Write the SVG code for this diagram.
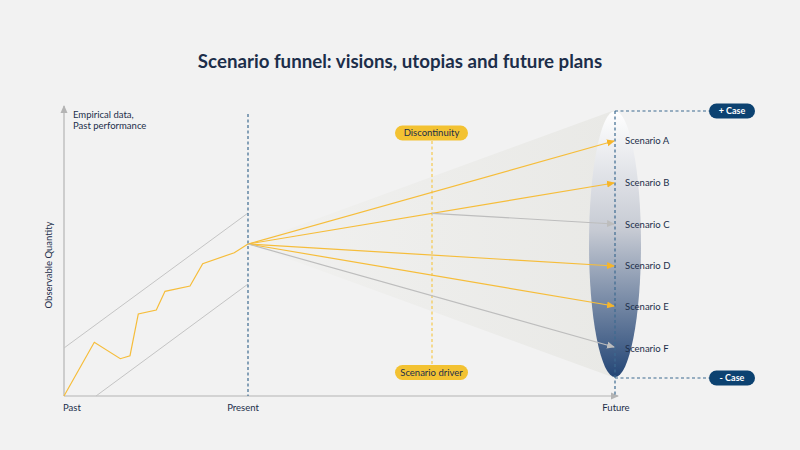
<svg xmlns="http://www.w3.org/2000/svg" width="800" height="450" viewBox="0 0 800 450">
<defs>
<style>
.t{font-family:Lato,"Open Sans","DejaVu Sans",sans-serif;fill:#1c2e4a;}
.lbl{font-size:9.5px;}
.ax{stroke:#b4b4b4;stroke-width:1.2;fill:none;}
.gl{stroke:#c4c4c4;stroke-width:1;fill:none;}
.yl{stroke:#f6bd3a;stroke-width:1.2;fill:none;}
.gr{stroke:#bdbdbd;stroke-width:1.2;fill:none;}
.dash{stroke:#3c6a90;stroke-width:1.2;stroke-dasharray:3,2.5;fill:none;}
.ydash{stroke:#f6c94e;stroke-width:1.2;stroke-dasharray:3,2.5;fill:none;}
.pillY{fill:#f3c232;}
.pillB{fill:#0c4271;}
</style>
<linearGradient id="fan" x1="0" y1="0" x2="1" y2="0">
<stop offset="0" stop-color="#f1f1f0"/>
<stop offset="1" stop-color="#e9e9e6"/>
</linearGradient>
<linearGradient id="ell" x1="0" y1="0" x2="0" y2="1">
<stop offset="0" stop-color="#ffffff"/>
<stop offset="0.45" stop-color="#c6cad3"/>
<stop offset="1" stop-color="#244676"/>
</linearGradient>
<marker id="aY" markerWidth="8" markerHeight="8" refX="7" refY="4" orient="auto" markerUnits="userSpaceOnUse"><path d="M0,0.5 L8,4 L0,7.5 Z" fill="#f6b52a"/></marker>
<marker id="aG" markerWidth="8" markerHeight="8" refX="7" refY="4" orient="auto" markerUnits="userSpaceOnUse"><path d="M0,0.5 L8,4 L0,7.5 Z" fill="#bdbdbd"/></marker>
<marker id="aA" markerWidth="8" markerHeight="8" refX="7" refY="4" orient="auto" markerUnits="userSpaceOnUse"><path d="M0,0.5 L8,4 L0,7.5 Z" fill="#b4b4b4"/></marker>
</defs>
<rect width="800" height="450" fill="#f2f2f2"/>
<text class="t" x="400" y="68" text-anchor="middle" font-size="18.7" font-weight="bold" fill="#0d2240">Scenario funnel: visions, utopias and future plans</text>

<g id="fan-area">
<polygon points="248,244 615,110 615,378" fill="url(#fan)"/>
</g>
<g id="future-ellipse">
<ellipse cx="615" cy="244" rx="26" ry="133" fill="url(#ell)"/>
</g>

<g id="axes">
<line class="ax" x1="64" y1="396" x2="64" y2="106" marker-end="url(#aA)"/>
<line class="ax" x1="64" y1="396" x2="618" y2="396" marker-end="url(#aA)"/>
<text class="t lbl" x="52" y="265" text-anchor="middle" transform="rotate(-90 52 265)">Observable Quantity</text>
<text class="t lbl" x="63" y="411">Past</text>
<text class="t lbl" x="243" y="411" text-anchor="middle">Present</text>
<text class="t lbl" x="616" y="411" text-anchor="middle">Future</text>
</g>

<g id="empirical-data">
<text class="t lbl" x="73" y="118">Empirical data,</text>
<text class="t lbl" x="73" y="129">Past performance</text>
<line class="gl" x1="64" y1="348" x2="248" y2="213"/>
<line class="gl" x1="96" y1="396" x2="248" y2="284"/>
<polyline class="yl" points="64,396 94.3,342.3 120.3,358.7 130,355.7 138.3,314 156.3,310 165,291.3 190,286 202.7,263.7 234.3,252.7 248,244"/>
</g>

<g id="present-line">
<line class="dash" x1="248" y1="114" x2="248" y2="396"/>
</g>
<g id="future-line">
<line class="dash" x1="615" y1="111" x2="615" y2="396"/>
<line class="dash" x1="615" y1="111" x2="709" y2="111"/>
<line class="dash" x1="615" y1="378" x2="709" y2="378"/>
</g>

<g id="discontinuity-line">
<line class="ydash" x1="432" y1="141" x2="432" y2="365"/>
</g>

<g id="connectors">
<line class="yl" x1="248" y1="244" x2="614" y2="141" marker-end="url(#aY)"/>
<line class="yl" x1="248" y1="244" x2="614" y2="183" marker-end="url(#aY)"/>
<line class="gr" x1="432" y1="213.3" x2="614" y2="224" marker-end="url(#aG)"/>
<line class="yl" x1="248" y1="244" x2="614" y2="266" marker-end="url(#aY)"/>
<line class="yl" x1="248" y1="244" x2="614" y2="306" stroke="#f5b52a" marker-end="url(#aY)"/>
<line class="gr" x1="248" y1="244" x2="614" y2="347" marker-end="url(#aG)"/>
</g>

<g id="scenario-a"><text class="t lbl" x="625" y="144">Scenario A</text></g>
<g id="scenario-b"><text class="t lbl" x="625" y="186">Scenario B</text></g>
<g id="scenario-c"><text class="t lbl" x="625" y="228">Scenario C</text></g>
<g id="scenario-d"><text class="t lbl" x="625" y="269">Scenario D</text></g>
<g id="scenario-e"><text class="t lbl" x="625" y="310">Scenario E</text></g>
<g id="scenario-f"><text class="t lbl" x="625" y="352">Scenario F</text></g>

<g id="discontinuity">
<rect class="pillY" x="395" y="125.5" width="73" height="15" rx="7.5"/>
<text class="t" x="431.5" y="136.3" text-anchor="middle" font-size="9.5">Discontinuity</text>
</g>
<g id="scenario-driver">
<rect class="pillY" x="395" y="365" width="73" height="15" rx="7.5"/>
<text class="t" x="431.5" y="375.8" text-anchor="middle" font-size="9.5">Scenario driver</text>
</g>
<g id="plus-case">
<rect class="pillB" x="709" y="103.5" width="46" height="15" rx="7.5"/>
<text x="732" y="114.3" text-anchor="middle" font-family="Lato,'Open Sans',sans-serif" font-size="9" font-weight="bold" fill="#ffffff">+ Case</text>
</g>
<g id="minus-case">
<rect class="pillB" x="709" y="370.5" width="46" height="15" rx="7.5"/>
<text x="732" y="381.3" text-anchor="middle" font-family="Lato,'Open Sans',sans-serif" font-size="9" font-weight="bold" fill="#ffffff">- Case</text>
</g>
</svg>
